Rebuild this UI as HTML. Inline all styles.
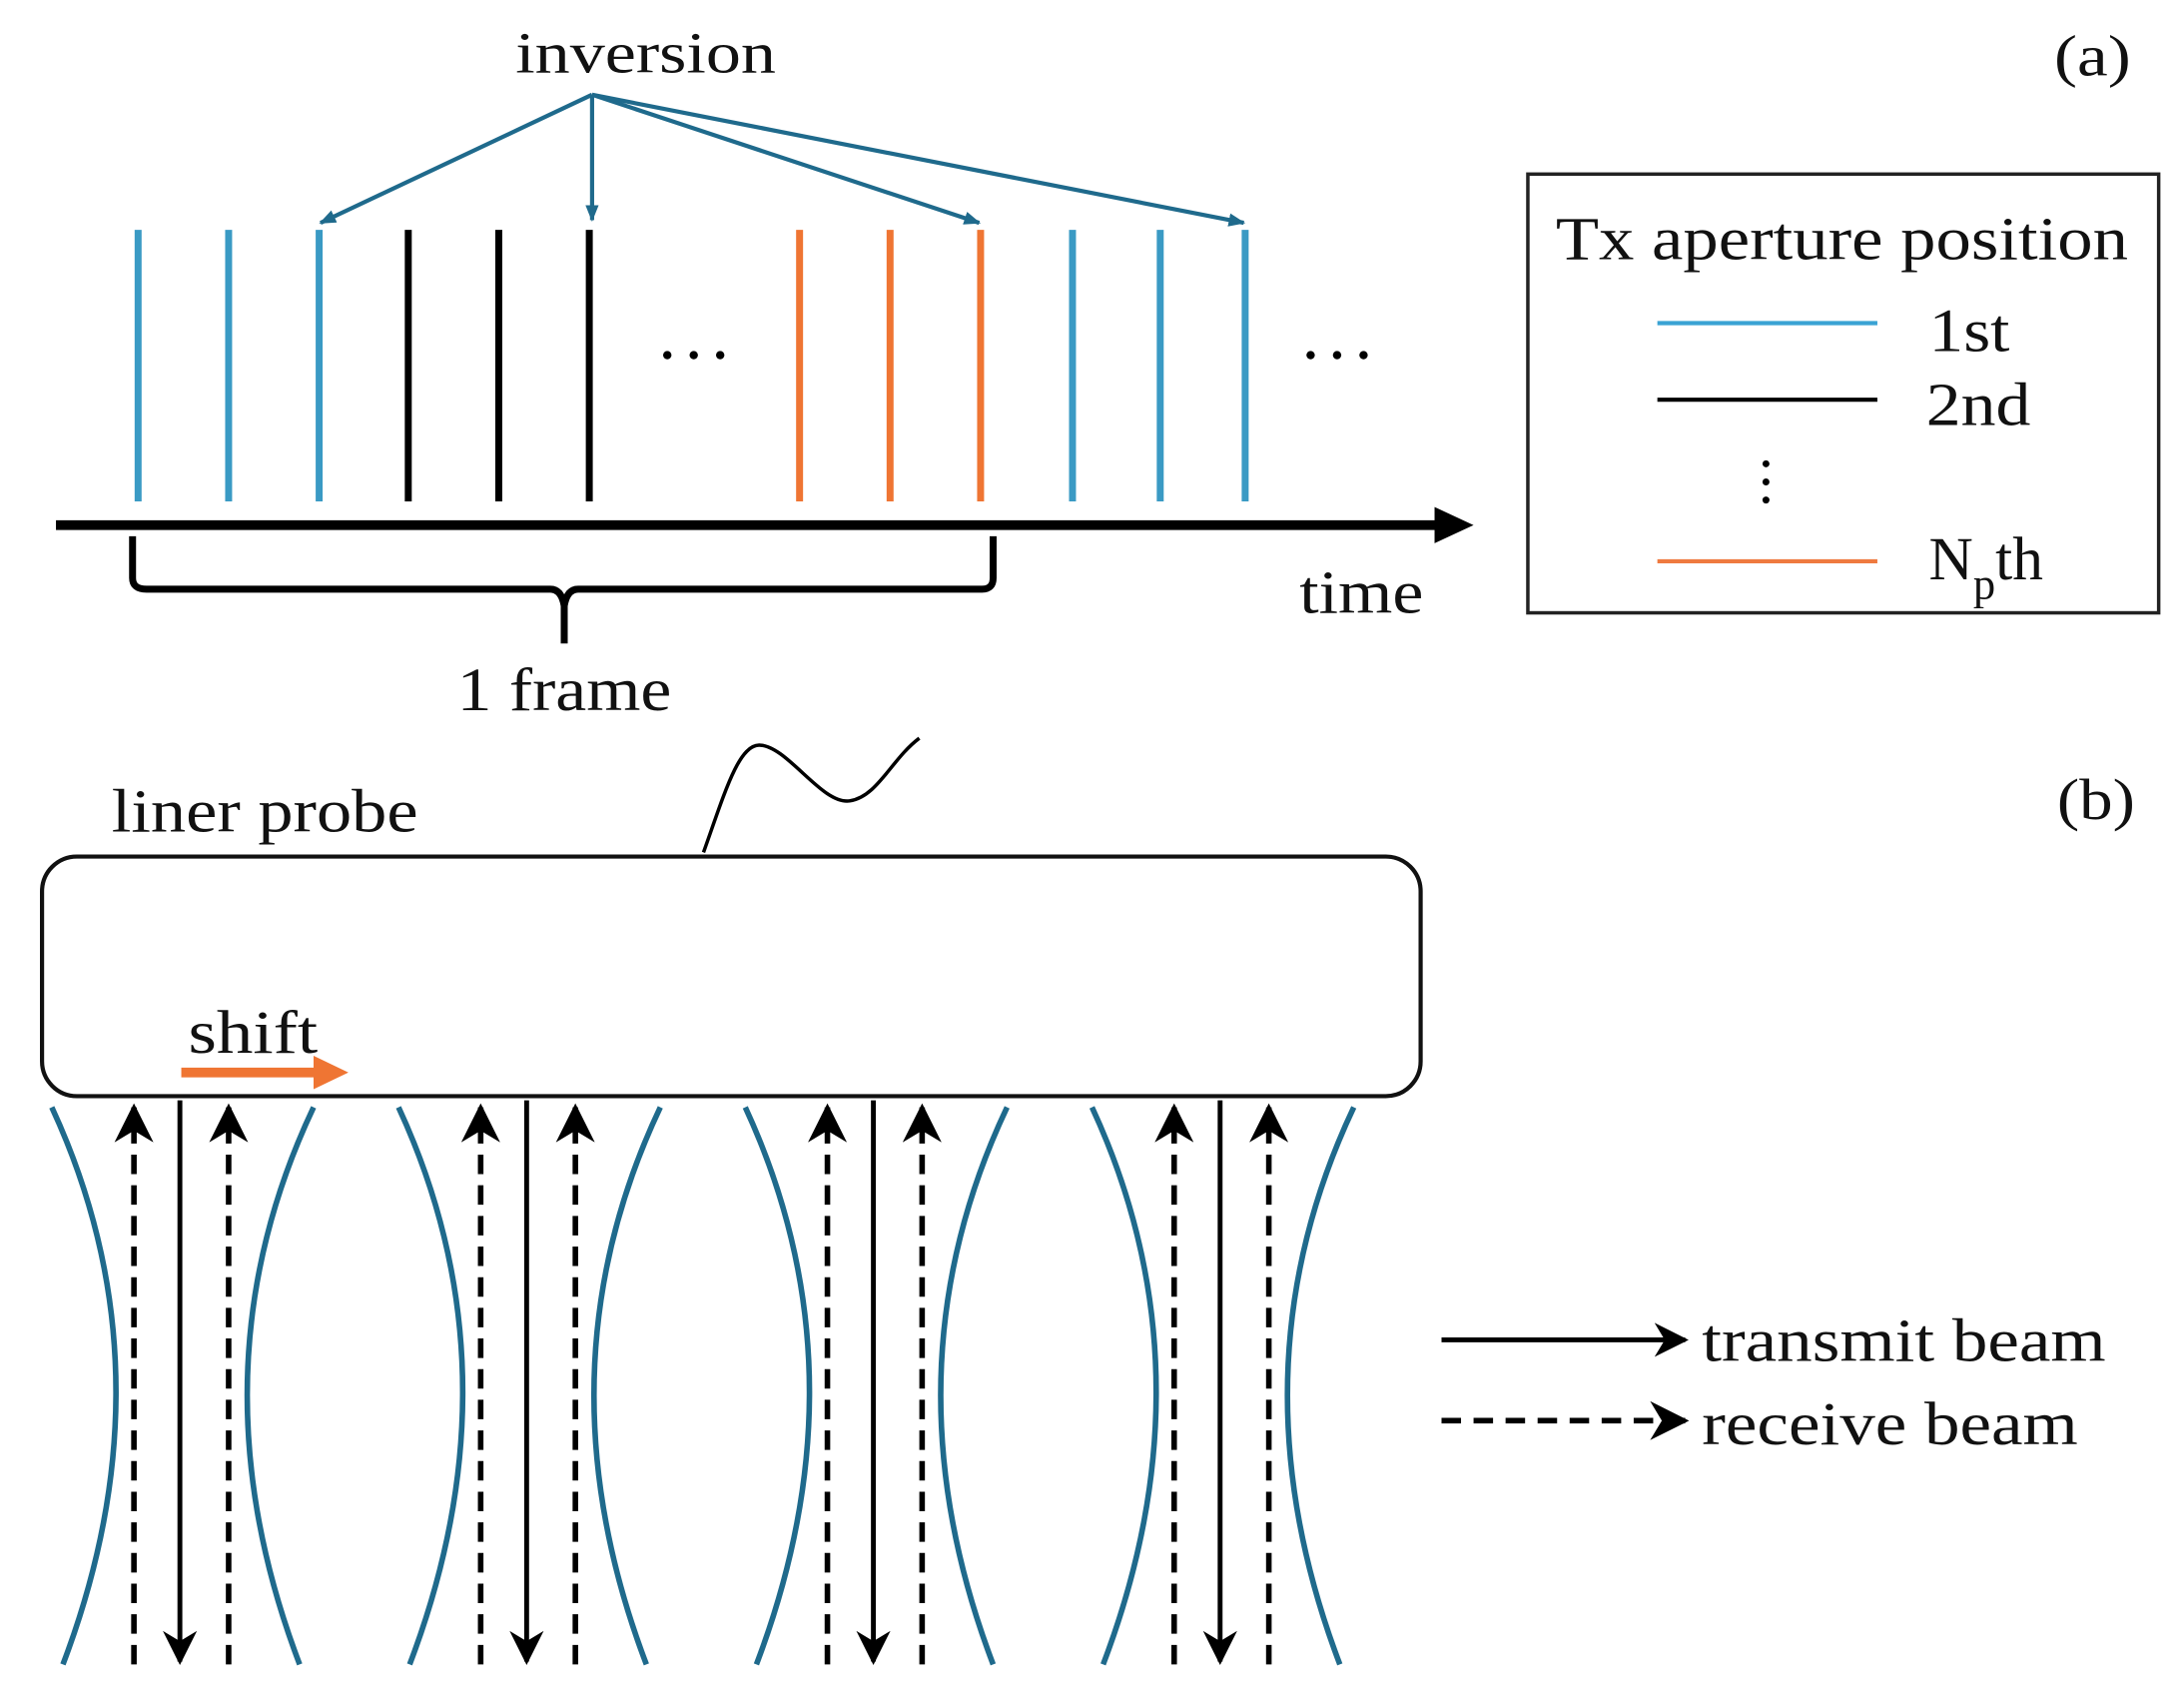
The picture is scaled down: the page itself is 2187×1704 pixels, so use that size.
<!DOCTYPE html>
<html><head><meta charset="utf-8"><style>html,body{margin:0;padding:0;background:#fff}svg{display:block}text{font-family:"Liberation Serif",serif;fill:#111}</style></head><body>
<svg width="2187" height="1704" viewBox="0 0 1568 1222" xmlns="http://www.w3.org/2000/svg">
<defs>
<marker id="ab" viewBox="0 0 10 10" refX="9" refY="5" markerWidth="4" markerHeight="4" orient="auto"><path d="M0,1 L10,5 L0,9 Z" fill="#1f6a8c"/></marker>
<marker id="ak" viewBox="0 0 10 10" refX="9" refY="5" markerWidth="7" markerHeight="7" orient="auto"><path d="M0,0 L10,5 L0,10 L3,5 Z" fill="#000"/></marker>
</defs>
<text x="370" y="52" font-size="42" textLength="187" lengthAdjust="spacingAndGlyphs">inversion</text>
<g stroke="#1f6a8c" stroke-width="3" fill="none" marker-end="url(#ab)">
<line x1="425" y1="68" x2="230" y2="160"/><line x1="425" y1="68" x2="425" y2="158"/>
<line x1="425" y1="68" x2="703" y2="160"/><line x1="425" y1="68" x2="893" y2="160"/>
</g>
<g stroke-width="5">
<g stroke="#3a9ac4"><line x1="99" y1="165" x2="99" y2="360"/><line x1="164" y1="165" x2="164" y2="360"/><line x1="229" y1="165" x2="229" y2="360"/><line x1="770" y1="165" x2="770" y2="360"/><line x1="833" y1="165" x2="833" y2="360"/><line x1="894" y1="165" x2="894" y2="360"/></g>
<g stroke="#000"><line x1="293" y1="165" x2="293" y2="360"/><line x1="358" y1="165" x2="358" y2="360"/><line x1="423" y1="165" x2="423" y2="360"/></g>
<g stroke="#ef7533"><line x1="574" y1="165" x2="574" y2="360"/><line x1="639" y1="165" x2="639" y2="360"/><line x1="704" y1="165" x2="704" y2="360"/></g>
</g>
<g fill="#000"><circle cx="479" cy="255" r="3"/><circle cx="498" cy="255" r="3"/><circle cx="517" cy="255" r="3"/>
<circle cx="941" cy="255" r="3"/><circle cx="960" cy="255" r="3"/><circle cx="979" cy="255" r="3"/></g>
<line x1="40" y1="377" x2="1032" y2="377" stroke="#000" stroke-width="7"/>
<path d="M1030,364 L1058,377 L1030,390 Z" fill="#000"/>
<path d="M95,385 V415 Q95,423 105,423 H395 Q403,423 405,435 V462 M405,435 Q407,423 415,423 H705 Q713,423 713,415 V385" stroke="#000" stroke-width="5" fill="none"/>
<text x="328" y="510" font-size="44" textLength="154" lengthAdjust="spacingAndGlyphs">1 frame</text>
<text x="933" y="440" font-size="44" textLength="89" lengthAdjust="spacingAndGlyphs">time</text>
<text x="1475" y="54" font-size="42" textLength="55" lengthAdjust="spacingAndGlyphs">(a)</text>
<text x="1477" y="588" font-size="42" textLength="56" lengthAdjust="spacingAndGlyphs">(b)</text>
<rect x="1097" y="125" width="453" height="315" fill="none" stroke="#222" stroke-width="2.5"/>
<text x="1117" y="186" font-size="44" textLength="411" lengthAdjust="spacingAndGlyphs">Tx aperture position</text>
<line x1="1190" y1="232" x2="1348" y2="232" stroke="#3aa3d4" stroke-width="3"/>
<text x="1385" y="252" font-size="44" textLength="58" lengthAdjust="spacingAndGlyphs">1st</text>
<line x1="1190" y1="287" x2="1348" y2="287" stroke="#000" stroke-width="3"/>
<text x="1383" y="305" font-size="44" textLength="75" lengthAdjust="spacingAndGlyphs">2nd</text>
<g fill="#000"><circle cx="1268" cy="333" r="2.5"/><circle cx="1268" cy="346" r="2.5"/><circle cx="1268" cy="359" r="2.5"/></g>
<line x1="1190" y1="403" x2="1348" y2="403" stroke="#ef7a40" stroke-width="3"/>
<text x="1385" y="416" font-size="44">N<tspan font-size="32" dy="14">p</tspan><tspan dy="-14">th</tspan></text>
<text x="80" y="597" font-size="44" textLength="220" lengthAdjust="spacingAndGlyphs">liner probe</text>
<path d="M505,612 C520,570 530,535 545,535 C565,535 590,578 610,575 C630,572 640,545 660,530" stroke="#000" stroke-width="2.5" fill="none"/>
<rect x="30" y="615" width="990" height="172" rx="25" fill="#fff" stroke="#111" stroke-width="3"/>
<text x="135" y="756" font-size="44" textLength="93" lengthAdjust="spacingAndGlyphs">shift</text>
<line x1="130" y1="770" x2="228" y2="770" stroke="#ef7533" stroke-width="7"/>
<path d="M225,758 L250,770 L225,782 Z" fill="#ef7533"/>
<g id="grp">
<path d="M37,795 Q125,985 45,1195" stroke="#1f6a8c" stroke-width="4" fill="none"/>
<path d="M225,795 Q135,985 215,1195" stroke="#1f6a8c" stroke-width="4" fill="none"/>
<line x1="129" y1="790" x2="129" y2="1193" stroke="#000" stroke-width="3.5" marker-end="url(#ak)"/>
<line x1="96" y1="1195" x2="96" y2="795" stroke="#000" stroke-width="4" stroke-dasharray="14,8" marker-end="url(#ak)"/>
<line x1="164" y1="1195" x2="164" y2="795" stroke="#000" stroke-width="4" stroke-dasharray="14,8" marker-end="url(#ak)"/>
</g>
<use href="#grp" x="249"/><use href="#grp" x="498"/><use href="#grp" x="747"/>
<line x1="1035" y1="962" x2="1210" y2="962" stroke="#000" stroke-width="3.5" marker-end="url(#ak)"/>
<text x="1222" y="977" font-size="44" textLength="290" lengthAdjust="spacingAndGlyphs">transmit beam</text>
<line x1="1035" y1="1020" x2="1210" y2="1020" stroke="#000" stroke-width="4" stroke-dasharray="14,9" marker-end="url(#ak)"/>
<text x="1222" y="1037" font-size="44" textLength="270" lengthAdjust="spacingAndGlyphs">receive beam</text>
</svg>
</body></html>
